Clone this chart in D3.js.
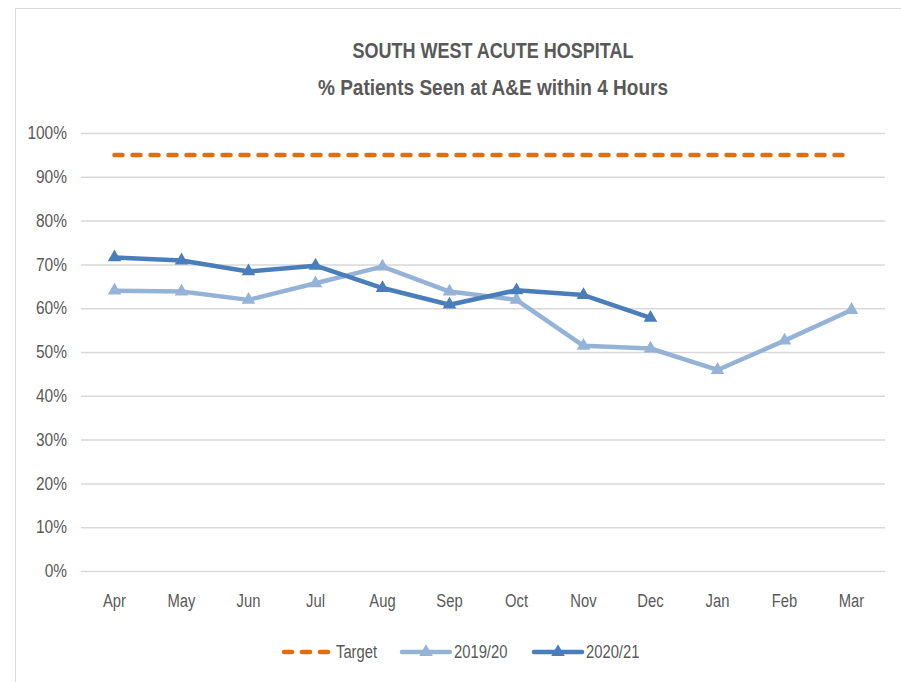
<!DOCTYPE html>
<html><head><meta charset="utf-8">
<script src="https://cdn.jsdelivr.net/npm/d3@7/dist/d3.min.js"></script>
<style>body{margin:0;background:#fff}svg{display:block}</style>
</head><body>
<svg id="chart" width="901" height="682"></svg>
<script>
const months = ["Apr","May","Jun","Jul","Aug","Sep","Oct","Nov","Dec","Jan","Feb","Mar"];
const target = [95,95,95,95,95,95,95,95,95,95,95,95];
const s2019 = [64.0,63.8,61.9,65.7,69.5,63.8,61.9,51.4,50.8,45.9,52.6,59.6];
const s2020 = [71.6,70.9,68.4,69.7,64.6,60.8,64.1,63.0,57.8];
const yTicks = [0,10,20,30,40,50,60,70,80,90,100];
const titleLines = ["SOUTH WEST ACUTE HOSPITAL","% Patients Seen at A&E within 4 Hours"];
const seriesNames = ["Target","2019/20","2020/21"];

const FONT = "'Liberation Sans', Arial, sans-serif";
const svg = d3.select("#chart");
const W = 901, H = 682;
const m = {left:81, right:885, top:133, bottom:571};

function condense(sel, f){
  sel.each(function(){
    const len = this.getComputedTextLength();
    d3.select(this).attr("textLength", len*f).attr("lengthAdjust","spacingAndGlyphs");
  });
}

svg.append("rect").attr("x",15.5).attr("y",8.5).attr("width",W).attr("height",H)
  .attr("fill","#fff").attr("stroke","#d9d9d9").attr("stroke-width",1);

const x = d3.scaleBand().domain(months).range([m.left,m.right]);
const y = d3.scaleLinear().domain([0,100]).range([m.bottom,m.top]);
const cx = d => x(d) + x.bandwidth()/2;

// grid
const yAxis = d3.axisLeft(y).tickValues(yTicks).tickFormat(d=>d+"%").tickSize(-(m.right-m.left)).tickPadding(14);
const gy = svg.append("g").attr("transform",`translate(${m.left},0)`).call(yAxis);
gy.select(".domain").remove();
gy.selectAll(".tick line").attr("stroke","#d9d9d9").attr("stroke-width",1.5);
gy.selectAll(".tick text").attr("fill","#595959").style("font-family",FONT).style("font-size","18px").call(condense,0.86);

const xAxis = d3.axisBottom(x).tickSize(0).tickPadding(23);
const gx = svg.append("g").attr("transform",`translate(0,${m.bottom})`).call(xAxis);
gx.select(".domain").remove();
gx.selectAll(".tick text").attr("fill","#595959").style("font-family",FONT).style("font-size","18px").call(condense,0.82);

// title
svg.append("text").attr("x",493).attr("y",58).attr("text-anchor","middle")
  .attr("fill","#595959").style("font-family",FONT).style("font-size","22px").style("font-weight","bold")
  .text(titleLines[0]).attr("textLength",281).attr("lengthAdjust","spacingAndGlyphs");
svg.append("text").attr("x",493).attr("y",95).attr("text-anchor","middle")
  .attr("fill","#595959").style("font-family",FONT).style("font-size","22px").style("font-weight","bold")
  .text(titleLines[1]).attr("textLength",350).attr("lengthAdjust","spacingAndGlyphs");

const line = d3.line().x((d,i)=>cx(months[i])).y(d=>y(d));
const tri = d3.symbol().type(d3.symbolTriangle).size(80);

// target
svg.append("path").datum(target).attr("d",line).attr("fill","none")
  .attr("stroke","#e46c0a").attr("stroke-width",4.5).attr("stroke-dasharray","8,10").attr("stroke-linecap","round");

function series(data,color){
  svg.append("path").datum(data).attr("d",line).attr("fill","none")
    .attr("stroke",color).attr("stroke-width",4.5).attr("stroke-linejoin","round");
  svg.append("g").selectAll("path").data(data).join("path")
    .attr("d",tri).attr("fill",color)
    .attr("transform",(d,i)=>`translate(${cx(months[i])},${y(d)})`);
}
series(s2019,"#95b3d7");
series(s2020,"#4a7ebb");

// legend
const ly = 652;
const leg = svg.append("g");
const items = [
  {name:seriesNames[0], color:"#e46c0a", x:284, dash:true},
  {name:seriesNames[1], color:"#95b3d7", x:402},
  {name:seriesNames[2], color:"#4a7ebb", x:534}
];
items.forEach(it=>{
  leg.append("line").attr("x1",it.x).attr("x2",it.x+48).attr("y1",ly).attr("y2",ly)
    .attr("stroke",it.color).attr("stroke-width",4.5)
    .attr("stroke-linecap","round")
    .attr("stroke-dasharray",it.dash?"8,10":null);
  if(!it.dash){
    leg.append("path").attr("d",tri).attr("fill",it.color).attr("transform",`translate(${it.x+24},${ly})`);
  }
  leg.append("text").attr("x",it.x+52).attr("y",ly).attr("dy","0.35em")
    .attr("fill","#595959").style("font-family",FONT).style("font-size","18px").text(it.name).call(condense,0.82);
});
</script>
</body></html>
